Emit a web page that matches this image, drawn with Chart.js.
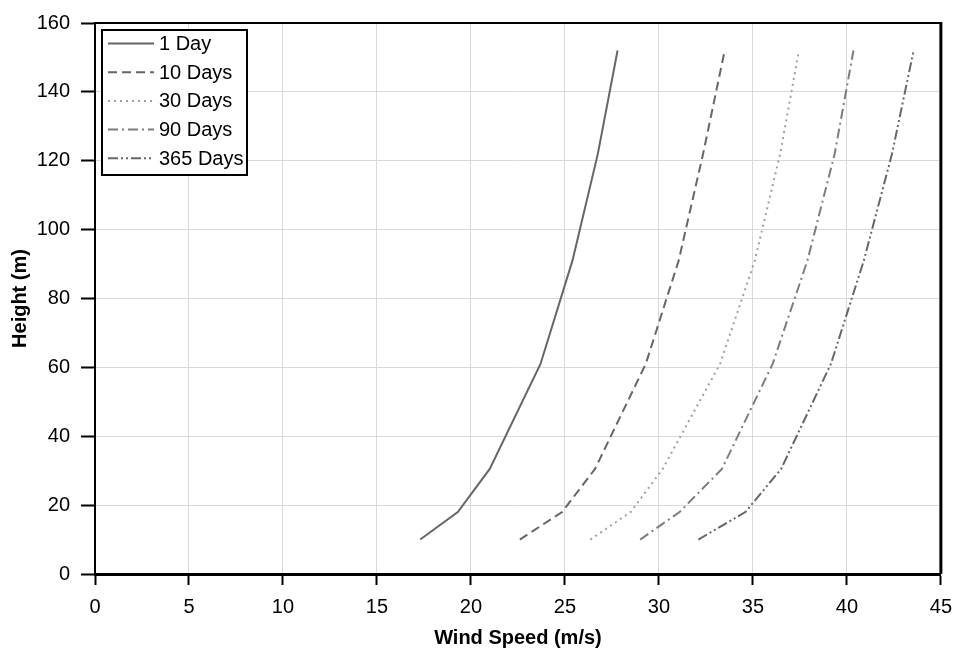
<!DOCTYPE html>
<html>
<head>
<meta charset="utf-8">
<title>Wind Speed Profiles</title>
<script src="https://cdn.jsdelivr.net/npm/chart.js@4.4.1/dist/chart.umd.min.js"></script>
<style>
  html, body { margin: 0; padding: 0; background: #fff; }
  #wrap { width: 962px; height: 654px; }
</style>
</head>
<body>
<div id="wrap"><canvas id="profileChart" width="962" height="654"></canvas></div>
<script>
// heights (m) where the wind speed was evaluated
const heights = [10, 18, 30.5, 61, 91, 122, 152];

// wind speed (m/s) at each height, per return period
const oneDay = [17.3, 19.3, 21.0, 23.7, 25.4, 26.75, 27.8];
const tenDays = [22.6, 24.85, 26.6, 29.3, 31.05, 32.35, 33.5];
const thirtyDays = [26.35, 28.5, 30.2, 33.25, 35.1, 36.45, 37.45];
const ninetyDays = [29.0, 31.1, 33.35, 36.05, 37.9, 39.35, 40.35];
const yearDays = [32.1, 34.6, 36.5, 39.15, 40.9, 42.4, 43.55];

const seriesLabels = ['1 Day', '10 Days', '30 Days', '90 Days', '365 Days'];
const seriesValues = [oneDay, tenDays, thirtyDays, ninetyDays, yearDays];

const xTicks = [0, 5, 10, 15, 20, 25, 30, 35, 40, 45];
const yTicks = [0, 20, 40, 60, 80, 100, 120, 140, 160];

// line look for each series
const lineColors = ['#666666', '#666666', '#a0a0a0', '#7d7d7d', '#666666'];
const lineDashes = [[], [9, 5], [2, 4], [10, 4, 2, 4], [10, 3, 2, 3, 2, 3]];

const FONT = "'Liberation Sans', Arial, sans-serif";

const datasets = seriesLabels.map((label, i) => ({
  label,
  data: seriesValues[i].map((v, k) => ({ x: v, y: heights[k] })),
  showLine: true,
  borderColor: lineColors[i],
  borderDash: lineDashes[i],
  borderWidth: 2,
  pointRadius: 0,
  tension: 0,
  fill: false
}));

// black frame round the plot area plus a boxed legend in its top-left corner
const frameAndLegend = {
  id: 'frameAndLegend',
  afterDatasetsDraw(chart) {
    const { ctx, chartArea: a } = chart;
    ctx.save();
    ctx.strokeStyle = '#000';
    ctx.lineWidth = 2;
    ctx.beginPath();
    ctx.moveTo(a.left, a.top);
    ctx.lineTo(a.right, a.top);
    ctx.stroke();
    ctx.lineWidth = 3;
    ctx.beginPath();
    ctx.moveTo(a.right, a.top - 1);
    ctx.lineTo(a.right, a.bottom);
    ctx.stroke();

    // legend box
    const bx = a.left + 7, by = a.top + 7, bw = 145, bh = 145;
    ctx.fillStyle = '#fff';
    ctx.fillRect(bx, by, bw, bh);
    ctx.lineWidth = 2;
    ctx.strokeStyle = '#000';
    ctx.strokeRect(bx, by, bw, bh);

    ctx.font = '20px ' + FONT;
    ctx.textBaseline = 'middle';
    ctx.textAlign = 'left';
    chart.data.datasets.forEach((ds, i) => {
      const y = by + 13.5 + i * 28.7;
      ctx.strokeStyle = ds.borderColor;
      ctx.lineWidth = 2;
      ctx.setLineDash(ds.borderDash);
      ctx.beginPath();
      ctx.moveTo(bx + 6, y);
      ctx.lineTo(bx + 52, y);
      ctx.stroke();
      ctx.setLineDash([]);
      ctx.fillStyle = '#000';
      ctx.fillText(ds.label, bx + 57, y + 1);
    });
    ctx.restore();
  }
};

new Chart(document.getElementById('profileChart'), {
  type: 'scatter',
  data: { datasets },
  plugins: [frameAndLegend],
  options: {
    responsive: false,
    animation: false,
    layout: { padding: { left: 0, top: 20, right: 15, bottom: 0 } },
    plugins: {
      legend: { display: false },
      tooltip: { enabled: false }
    },
    scales: {
      x: {
        type: 'linear',
        min: 0,
        max: 45,
        afterBuildTicks: (scale) => { scale.ticks = xTicks.map(v => ({ value: v })); },
        afterFit: (scale) => { scale.height = 80; },
        grid: {
          color: '#d9d9d9',
          lineWidth: 1,
          tickColor: '#000',
          tickWidth: 2,
          tickLength: 11
        },
        border: { color: '#000', width: 3 },
        ticks: {
          color: '#000',
          padding: 10,
          maxRotation: 0,
          font: { family: FONT, size: 20 }
        },
        title: {
          display: true,
          text: 'Wind Speed (m/s)',
          color: '#000',
          padding: { top: 0, bottom: 4 },
          font: { family: FONT, size: 20, weight: 'bold' }
        }
      },
      y: {
        type: 'linear',
        min: 0,
        max: 160,
        afterBuildTicks: (scale) => { scale.ticks = yTicks.map(v => ({ value: v })); },
        afterFit: (scale) => { scale.width = 95; },
        grid: {
          color: '#d9d9d9',
          lineWidth: 1,
          tickColor: '#000',
          tickWidth: 2,
          tickLength: 14
        },
        border: { color: '#000', width: 2 },
        ticks: {
          color: '#000',
          padding: 11,
          font: { family: FONT, size: 20 }
        },
        title: {
          display: true,
          text: 'Height (m)',
          color: '#000',
          padding: { top: 8, bottom: 0 },
          font: { family: FONT, size: 20, weight: 'bold' }
        }
      }
    }
  }
});
</script>
</body>
</html>
